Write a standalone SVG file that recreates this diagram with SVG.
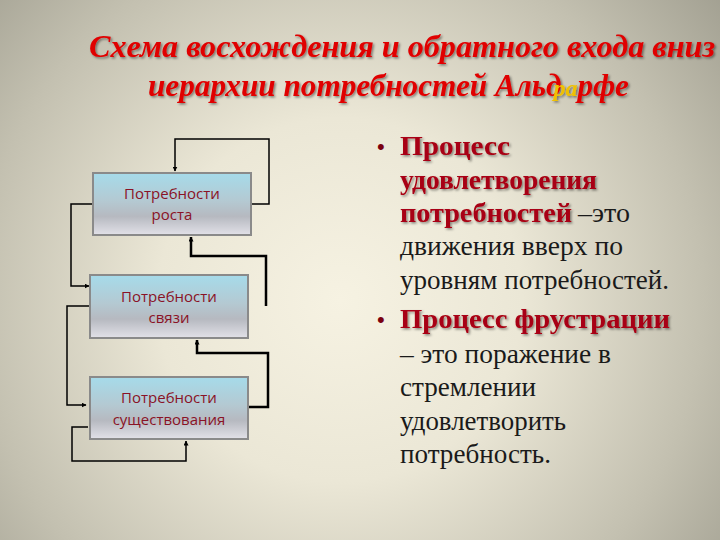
<svg xmlns="http://www.w3.org/2000/svg" width="720" height="540" viewBox="0 0 720 540">
<defs>
<radialGradient id="bg" cx="340" cy="300" r="520" gradientUnits="userSpaceOnUse">
<stop offset="0" stop-color="#f6f2e2"/>
<stop offset="0.35" stop-color="#ebe7d6"/>
<stop offset="0.7" stop-color="#c3c0b0"/>
<stop offset="1" stop-color="#9a988a"/>
</radialGradient>
<linearGradient id="box" x1="0" y1="0" x2="0" y2="1">
<stop offset="0" stop-color="#a6dbea"/>
<stop offset="0.45" stop-color="#b4c9d2"/>
<stop offset="0.7" stop-color="#b6b9c0"/>
<stop offset="1" stop-color="#e2e1e8"/>
</linearGradient>
<marker id="ah" viewBox="0 0 10 10" refX="9" refY="5" markerWidth="5" markerHeight="5" orient="auto" markerUnits="userSpaceOnUse">
<path d="M0,0 L10,5 L0,10 z" fill="#000"/>
</marker>
<filter id="sh" x="-5%" y="-20%" width="110%" height="140%">
<feDropShadow dx="1.5" dy="1.5" stdDeviation="1" flood-color="#000" flood-opacity="0.45"/>
</filter>
</defs>
<style>
.title{font-family:"Liberation Serif","DejaVu Serif",serif;font-style:italic;font-weight:bold;font-size:31px;fill:#e00000;}
.yel{fill:#f0c000;font-size:24px;}
.lbl{font-family:"Open Sans","Liberation Sans",sans-serif;font-size:15px;fill:#8a1226;text-anchor:middle;}
.bx{fill:url(#box);stroke:#8a8a8a;stroke-width:2;}
.c{fill:none;stroke:#000;stroke-width:1.5;}
.ct{fill:none;stroke:#000;stroke-width:2.5;}
.hd{font-family:"Liberation Serif","DejaVu Serif",serif;font-weight:bold;font-size:27px;fill:#a80012;}
.tx{font-family:"Liberation Serif","DejaVu Serif",serif;font-size:27px;fill:#1a1a1a;}
.bul{font-family:"Liberation Sans",sans-serif;font-size:22px;fill:#7a0010;}
</style>
<rect width="720" height="540" fill="url(#bg)"/>

<g id="title" filter="url(#sh)">
<text class="title" x="402" y="57" text-anchor="middle" textLength="626" lengthAdjust="spacingAndGlyphs">Схема восхождения и обратного входа вниз</text>
<text class="title" x="148" y="96"><tspan textLength="398" lengthAdjust="spacingAndGlyphs">иерархии потребностей Аль</tspan><tspan>д</tspan><tspan class="yel" dx="-8">ра</tspan><tspan>рфе</tspan></text>
</g>

<g id="connectors">
<polyline class="c" points="251,204 269,204 269,139 175,139 175,171" marker-end="url(#ah)"/>
<polyline class="c" points="93,204 71,204 71,286 89,286" marker-end="url(#ah)"/>
<polyline class="ct" points="266,306 266,256 191,256 191,237" marker-end="url(#ah)"/>
<polyline class="c" points="90,306 67,306 67,405 86,405" marker-end="url(#ah)"/>
<polyline class="ct" points="248,407 268,407 268,353 197,353 197,340" marker-end="url(#ah)"/>
<polyline class="c" points="88,427 72,427 72,461 186,461 186,441" marker-end="url(#ah)"/>
</g>

<g id="n1">
<rect class="bx" x="93" y="173" width="158" height="62"/>
<text class="lbl" x="172" y="199">Потребности</text>
<text class="lbl" x="172" y="220">роста</text>
</g>
<g id="n2">
<rect class="bx" x="90" y="275" width="158" height="63"/>
<text class="lbl" x="169" y="302">Потребности</text>
<text class="lbl" x="169" y="323">связи</text>
</g>
<g id="n3">
<rect class="bx" x="90" y="377" width="158" height="62"/>
<text class="lbl" x="169" y="403">Потребности</text>
<text class="lbl" x="169" y="425">существования</text>
</g>

<g id="text">
<text class="bul" x="377" y="154">•</text>
<text class="hd" x="400" y="155" filter="url(#sh)" textLength="110" lengthAdjust="spacingAndGlyphs">Процесс</text>
<text class="hd" x="400" y="189" filter="url(#sh)" textLength="197" lengthAdjust="spacingAndGlyphs">удовлетворения</text>
<text class="hd" x="400" y="222" filter="url(#sh)" textLength="172" lengthAdjust="spacingAndGlyphs">потребностей</text>
<text class="tx" x="578" y="222" textLength="52" lengthAdjust="spacingAndGlyphs">–это</text>
<text class="tx" x="400" y="255" textLength="223" lengthAdjust="spacingAndGlyphs">движения вверх  по</text>
<text class="tx" x="400" y="289" textLength="269" lengthAdjust="spacingAndGlyphs">уровням потребностей.</text>
<text class="bul" x="377" y="327">•</text>
<text class="hd" x="400" y="328" filter="url(#sh)" textLength="270" lengthAdjust="spacingAndGlyphs">Процесс фрустрации</text>
<text class="tx" x="400" y="363" textLength="211" lengthAdjust="spacingAndGlyphs">– это поражение в</text>
<text class="tx" x="400" y="396" textLength="136" lengthAdjust="spacingAndGlyphs">стремлении</text>
<text class="tx" x="400" y="430" textLength="166" lengthAdjust="spacingAndGlyphs">удовлетворить</text>
<text class="tx" x="400" y="463" textLength="151" lengthAdjust="spacingAndGlyphs">потребность.</text>
</g>
</svg>
